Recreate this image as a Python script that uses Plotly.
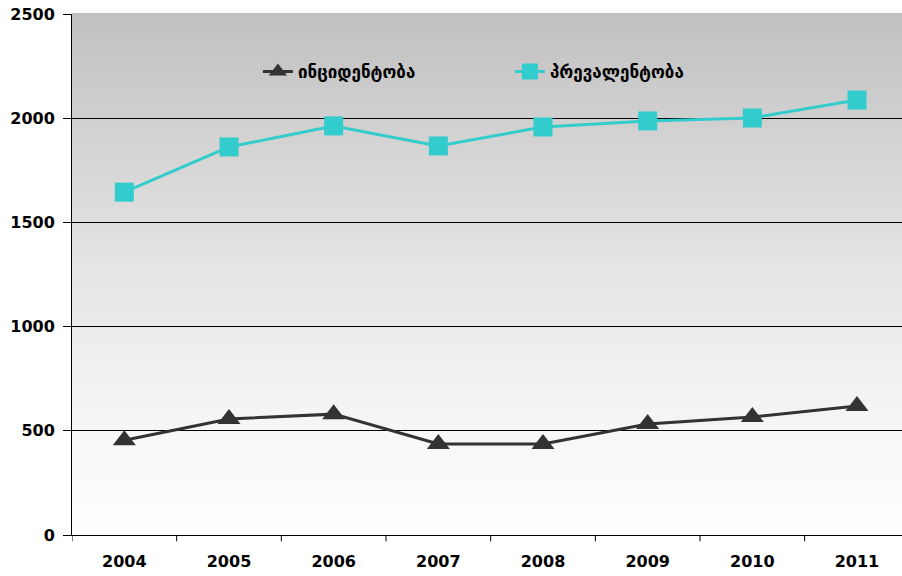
import plotly.graph_objects as go

years = ["2004", "2005", "2006", "2007", "2008", "2009", "2010", "2011"]
incidence = [455, 557, 580, 437, 437, 533, 566, 619]
prevalence = [1645, 1862, 1963, 1867, 1958, 1987, 2001, 2087]
y_ticks = [0, 500, 1000, 1500, 2000, 2500]

name_inc = "ინციდენტობა"
name_prev = "პრევალენტობა"

fig = go.Figure()

fig.add_trace(go.Scatter(
    x=list(range(len(years))), y=incidence, name=name_inc, mode="lines+markers",
    line=dict(color="#333333", width=3),
    marker=dict(symbol="triangle-up", size=20, color="#333333")))

fig.add_trace(go.Scatter(
    x=list(range(len(years))), y=prevalence, name=name_prev, mode="lines+markers",
    line=dict(color="#33CCCC", width=3),
    marker=dict(symbol="square", size=19, color="#33CCCC")))

# gradient background: thin strips under the gridlines, grey at top -> white at bottom
n_strips = 130
top, bottom = 192, 254
for i in range(n_strips):
    t = (i + 0.5) / n_strips
    c = round(bottom + (top - bottom) * t ** 1.3)
    fig.add_shape(type="rect", xref="paper", yref="paper", x0=0, x1=1,
                  y0=i / n_strips, y1=(i + 1) / n_strips + 0.002,
                  fillcolor=f"rgb({c},{c},{c})", line=dict(width=0), layer="below")

fig.update_layout(
    width=902, height=576,
    margin=dict(l=72, r=0, t=14, b=41),
    paper_bgcolor="white", plot_bgcolor="white",
    font=dict(family="DejaVu Sans", color="black"),
    showlegend=True,
    legend=dict(orientation="h", x=0.224, y=0.889, xanchor="left", yanchor="middle",
                bgcolor="rgba(0,0,0,0)", entrywidth=207, entrywidthmode="pixels",
                font=dict(size=17, family="DejaVu Sans", weight="bold"), itemwidth=30),
)

fig.update_xaxes(
    range=[-0.5, 7.43], tickmode="array", tickvals=list(range(len(years))), ticktext=years,
    showgrid=False, zeroline=False, showline=True, linecolor="black", linewidth=1,
    ticks="", tickfont=dict(size=16, family="DejaVu Sans", weight="bold"), ticklabelstandoff=12)

# boundary ticks between categories
for i in range(len(years)):
    fig.add_shape(type="line", xref="x", yref="paper", x0=i - 0.5, x1=i - 0.5,
                  y0=0, y1=-0.012, line=dict(color="black", width=1))

fig.update_yaxes(
    range=[0, 2500], tickvals=y_ticks, showgrid=True, gridcolor="black", gridwidth=1,
    zeroline=False, showline=True, linecolor="black", linewidth=1,
    ticks="outside", ticklen=8, tickcolor="black", ticklabelstandoff=5,
    tickfont=dict(size=16, family="DejaVu Sans", weight="bold"))

fig.write_html("out.html", config={"displayModeBar": False},
               post_script="document.body.style.margin='0';")
